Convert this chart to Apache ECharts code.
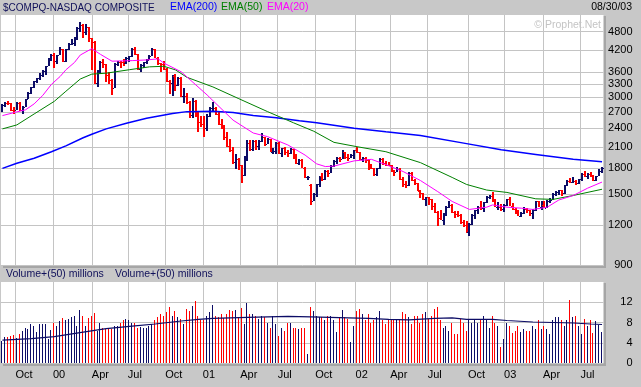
<!DOCTYPE html>
<html><head><meta charset="utf-8">
<script src="https://cdn.jsdelivr.net/npm/echarts@6/dist/echarts.min.js"></script>
<style>html,body{margin:0;padding:0;background:#c8c8c8;overflow:hidden}#c{width:641px;height:387px}</style>
</head><body><div id="c"></div>
<script>
// Weekly bars, index 0 = week ending 1999-09-03, last (208) = week ending 2003-08-29
const gridWeeks = [4.5, 17.5, 31, 43.5, 56.5, 69.5, 82.5, 95.5, 108.5, 122.5, 134.5, 147.5, 161.5, 174, 187.5, 200.5];
const gridLabels = ['Oct','00','Apr','Jul','Oct','01','Apr','Jul','Oct','02','Apr','Jul','Oct','03','Apr','Jul'];
const priceTicks = [900,1200,1500,1800,2100,2400,2700,3000,3300,3600,4200,4800];
const volTicks = [0,4,8,12];

const opens = [2758,2843,2887,2869,2740,2736,2887,2731,2801,2967,
3102,3221,3369,3448,3520,3620,3753,3969,4069,3882,
4064,4235,3887,4245,4395,4411,4590,4914,5048,4798,
4963,4573,4446,3321,3643,3860,3817,3529,3390,3205,
3813,3874,3860,3845,3966,4024,4246,4095,3663,3787,
3849,3930,4042,4234,3986,3835,3803,3673,3361,3316,
3483,3278,3451,3028,3028,2904,2645,2917,2653,2517,
2470,2407,2626,2770,2781,2660,2470,2425,2262,2117,
2052,1890,1928,1840,1720,1961,2163,2075,2192,2107,
2193,2251,2149,2215,2028,2034,2160,2004,2084,2029,
2015,2066,1956,1867,1916,1805,1687,1600,1423,1499,
1605,1703,1671,1768,1746,1828,1898,1941,1930,2021,
1953,1945,1987,2059,2022,1930,1937,1911,1818,1805,
1724,1802,1930,1868,1851,1845,1770,1756,1796,1663,
1613,1600,1741,1661,1616,1535,1504,1441,1463,1448,
1373,1319,1262,1247,1306,1361,1380,1315,1295,1291,
1221,1199,1139,1210,1288,1331,1360,1359,1411,1468,
1479,1422,1362,1363,1348,1387,1447,1376,1343,1320,
1282,1310,1349,1337,1305,1340,1421,1369,1383,1358,
1425,1434,1502,1520,1538,1510,1596,1646,1627,1645,
1625,1663,1734,1708,1731,1715,1652,1702,1765];
const highs = [2850,2890,2915,2880,2790,2890,2900,2820,2970,3110,
3230,3370,3450,3560,3650,3760,3970,4090,4131,4070,
4290,4250,4250,4440,4550,4620,4970,5132,5070,5080,
4970,4600,4480,3650,3900,3960,3820,3600,3420,3830,
3900,3900,3950,3990,4030,4260,4289,4100,3800,3870,
3940,4060,4260,4240,4000,3840,3900,3690,3400,3520,
3550,3480,3470,3200,3100,2920,2980,2930,2700,2620,
2620,2660,2800,2892,2800,2700,2560,2460,2340,2230,
2100,1990,1940,1850,1965,2200,2200,2200,2210,2200,
2320,2260,2240,2220,2090,2170,2170,2090,2100,2060,
2080,2070,1990,1930,1920,1820,1710,1610,1510,1610,
1710,1740,1780,1780,1840,1910,1950,1950,2060,2030,
1990,2000,2060,2098,2030,1960,1960,1920,1860,1810,
1810,1940,1940,1900,1880,1850,1780,1820,1800,1690,
1650,1750,1750,1670,1620,1540,1510,1470,1465,1450,
1400,1330,1340,1310,1370,1425,1390,1330,1330,1300,
1240,1230,1215,1300,1340,1370,1420,1415,1480,1490,
1521,1440,1410,1390,1390,1450,1467,1400,1350,1340,
1320,1360,1350,1340,1345,1425,1425,1420,1420,1430,
1460,1505,1530,1540,1540,1600,1660,1680,1690,1660,
1670,1740,1770,1740,1760,1720,1710,1790,1815];
const lows = [2700,2790,2840,2720,2650,2730,2720,2650,2790,2960,
3070,3200,3330,3390,3480,3530,3750,3900,3711,3800,
4050,3870,3850,4200,4350,4330,4530,4800,4580,4700,
4450,3650,3300,3227,3550,3700,3350,3300,3042,3200,
3750,3700,3750,3800,3870,4000,4060,3640,3590,3700,
3820,3920,4030,3970,3780,3600,3640,3340,3070,3030,
3130,3240,3000,2880,2850,2590,2580,2600,2330,2420,
2251,2360,2600,2720,2640,2460,2380,2200,2100,2030,
1860,1790,1780,1619,1700,1900,2040,2040,2060,2050,
2180,2110,2140,2020,2000,2000,2000,1960,1980,1950,
2000,1930,1860,1840,1800,1680,1660,1387,1420,1470,
1580,1640,1660,1690,1740,1820,1860,1880,1920,1920,
1900,1940,1930,2010,1910,1880,1870,1780,1790,1700,
1700,1790,1840,1830,1830,1760,1700,1750,1660,1580,
1560,1590,1650,1600,1530,1460,1430,1375,1380,1340,
1310,1192,1240,1200,1280,1350,1310,1260,1270,1210,
1180,1130,1108,1200,1250,1300,1340,1320,1400,1440,
1410,1360,1340,1330,1320,1370,1370,1340,1300,1280,
1270,1300,1310,1280,1253,1330,1360,1340,1350,1350,
1400,1430,1480,1490,1480,1500,1590,1620,1620,1600,
1610,1650,1690,1670,1690,1644,1640,1700,1740];
const closes = [2843,2887,2869,2740,2736,2887,2731,2801,2967,3102,
3221,3369,3448,3520,3620,3753,3969,4069,3882,4064,
4235,3887,4245,4395,4411,4590,4914,5048,4798,4963,
4573,4446,3321,3643,3860,3817,3529,3390,3205,3813,
3874,3860,3845,3966,4024,4246,4095,3663,3787,3849,
3930,4042,4234,3986,3835,3803,3673,3361,3316,3483,
3278,3451,3028,3028,2904,2645,2917,2653,2517,2470,
2407,2626,2770,2781,2660,2470,2425,2262,2117,2052,
1890,1928,1840,1720,1961,2163,2075,2192,2107,2193,
2251,2149,2215,2028,2034,2160,2004,2084,2029,2015,
2066,1956,1867,1916,1805,1687,1695,1423,1499,1605,
1703,1671,1768,1746,1828,1898,1941,1930,2021,1953,
1945,1987,2059,2022,1930,1937,1911,1818,1805,1724,
1802,1930,1868,1851,1845,1770,1756,1796,1663,1613,
1600,1741,1661,1616,1535,1504,1441,1463,1448,1373,
1319,1262,1247,1306,1361,1380,1315,1295,1291,1221,
1199,1139,1210,1288,1331,1360,1359,1411,1468,1479,
1422,1362,1363,1348,1387,1447,1376,1343,1320,1282,
1310,1349,1337,1305,1340,1421,1369,1383,1358,1425,
1434,1502,1520,1538,1510,1596,1646,1627,1645,1625,
1663,1734,1708,1731,1715,1652,1702,1765,1810];
const volumes = [4.4,5.1,5.2,5.3,5.5,4.9,5.7,6.4,7.0,6.7,
7.7,7.4,6.1,7.7,7.7,7.7,4.7,6.5,8.0,7.4,
8.2,8.9,8.4,8.7,9.1,9.3,7.4,10.5,9.3,7.4,
8.9,9.3,9.9,6.4,8.0,7.0,6.7,7.0,6.7,7.4,
7.4,8.0,8.4,8.7,8.4,8.0,8.0,7.0,7.2,7.0,
7.0,7.4,7.7,8.4,9.0,9.7,9.3,10.0,11.0,9.3,
10.3,9.0,8.7,7.7,10.7,10.3,11.3,12.3,9.3,8.4,
8.4,9.3,10.0,11.4,9.3,9.1,9.7,8.9,9.7,10.5,
10.3,10.5,9.0,10.8,7.7,11.8,9.7,9.7,9.3,8.7,
9.3,9.0,8.0,7.0,9.3,7.7,5.3,7.0,6.4,8.0,
8.0,7.0,7.0,6.7,7.0,7.0,1.8,11.0,10.3,9.3,
9.0,9.0,8.4,9.3,9.3,8.4,6.1,9.1,10.5,9.0,
8.7,4.1,7.4,10.3,10.7,9.7,8.4,9.7,8.0,8.4,
9.0,10.3,8.4,7.7,8.4,8.5,8.5,8.5,8.7,10.0,
9.7,9.0,7.7,9.3,9.3,8.0,9.7,10.0,8.7,9.3,
10.7,11.1,8.4,7.0,7.4,6.4,8.0,5.7,5.7,8.7,
8.0,6.4,8.4,8.0,8.4,8.0,8.4,9.3,8.7,7.0,
9.3,8.0,7.4,3.1,4.7,8.0,7.4,5.9,6.4,7.4,
6.2,6.7,6.4,6.4,7.4,6.7,8.4,6.7,7.4,6.7,
5.7,8.4,9.0,9.0,8.4,7.4,8.4,12.4,9.0,9.3,
7.4,5.7,8.7,7.4,8.4,6.0,8.3,7.6,6.2];

// Moving averages: [week index, value]
const ema200 = [[0,1800],[5,1868],[11,1937],[17,2029],[22,2115],[28,2242],[31,2300],[36,2390],[43,2487],[50,2578],[59,2668],[64,2705],[73,2711],[80,2686],[87,2633],[95,2587],[103,2532],[109,2496],[122,2402],[133,2340],[145,2280],[161,2150],[173,2057],[185,1990],[198,1921],[208,1889]];
const ema50 = [[0,2390],[5,2459],[11,2660],[18,2913],[22,3130],[27,3418],[31,3540],[36,3564],[44,3654],[51,3730],[56,3745],[60,3650],[64,3460],[73,3230],[82,2968],[92,2704],[101,2496],[108,2350],[115,2170],[123,2103],[133,2029],[145,1876],[156,1687],[161,1604],[168,1541],[175,1515],[185,1447],[191,1441],[198,1482],[208,1550]];
const ema20 = [[0,2629],[5,2700],[8,2740],[11,2860],[14,3040],[17,3290],[20,3480],[22,3650],[25,3850],[27,4060],[31,4250],[34,4080],[38,3885],[45,3900],[50,3920],[54,3950],[56,3832],[62,3600],[71,3048],[80,2545],[87,2320],[92,2260],[99,2130],[105,1980],[109,1860],[112,1824],[115,1830],[122,1900],[128,1921],[133,1850],[139,1760],[145,1650],[151,1524],[156,1420],[162,1341],[168,1363],[170,1385],[175,1363],[180,1353],[184,1341],[189,1363],[193,1435],[198,1482],[203,1562],[208,1632]];
const volEma50 = [[0,4.5],[10,4.8],[18,5.2],[28,6.1],[36,6.8],[45,7.3],[53,7.7],[62,8.3],[68,8.6],[73,8.8],[85,9.0],[99,9.2],[107,9.1],[120,8.9],[127,8.8],[134,8.6],[141,8.5],[150,8.8],[156,8.9],[161,8.6],[170,8.6],[175,8.4],[184,8.1],[191,8.0],[198,7.9],[204,7.7],[208,7.6]];

const NAVY = '#0c0c66', RED = '#ff0000', GRID = '#c4c4c4', FONT = 'Arial, "Liberation Sans", sans-serif';
const upFlag = closes.map((c, i) => (i === 0 || c >= closes[i - 1]) ? 1 : 0);
const ohlcData = closes.map((c, i) => [i, opens[i], highs[i], lows[i], c, upFlag[i]]);
const volData = volumes.map((v, i) => [i, v, upFlag[i]]);

function ohlcItem(params, api) {
  const i = api.value(0);
  const h = api.coord([i, api.value(2)]);
  const l = api.coord([i, api.value(3)]);
  const o = api.coord([i, api.value(1)]);
  const c = api.coord([i, api.value(4)]);
  const col = api.value(5) ? NAVY : RED;
  const x = Math.round(h[0]);
  const yh = Math.round(h[1]), yl = Math.round(l[1]);
  return { type: 'group', children: [
    { type: 'rect', shape: { x: x - 1, y: yh, width: 2, height: Math.max(1, yl - yh) }, style: { fill: col } },
    { type: 'rect', shape: { x: x - 2, y: Math.round(o[1]), width: 1, height: 1 }, style: { fill: col } },
    { type: 'rect', shape: { x: x + 1, y: Math.round(c[1]), width: 1, height: 1 }, style: { fill: col } }
  ]};
}
function volItem(params, api) {
  const i = api.value(0);
  const t = api.coord([i, api.value(1)]);
  const b = api.coord([i, 0]);
  const x = Math.round(t[0]);
  return { type: 'rect', shape: { x: x - 1, y: Math.round(t[1]), width: 1, height: Math.round(b[1]) - Math.round(t[1]) },
           style: { fill: api.value(2) ? NAVY : RED } };
}
function weekLabel(v) {
  let k = 0, d = 1e9;
  gridWeeks.forEach((w, j) => { if (Math.abs(w - v) < d) { d = Math.abs(w - v); k = j; } });
  return gridLabels[k];
}
const lbl = { fontSize: 11, color: '#000', fontFamily: FONT };
const SHADE = '#a6a6a6';

const chart = echarts.init(document.getElementById('c'), null, { renderer: 'canvas' });
chart.setOption({
  animation: false,
  backgroundColor: '#c8c8c8',
  grid: [
    { left: 1, right: 37.5, top: 15, height: 251, show: true, backgroundColor: '#ffffff', borderWidth: 0 },
    { left: 1, right: 37.5, top: 282, height: 81, show: true, backgroundColor: '#ffffff', borderWidth: 0 }
  ],
  xAxis: [
    { type: 'value', gridIndex: 0, min: -0.5, max: 208.5, axisLine: { show: false },
      axisTick: { show: false, customValues: gridWeeks }, axisLabel: { show: false, customValues: gridWeeks },
      splitLine: { show: true, lineStyle: { color: GRID, width: 1 } } },
    { type: 'value', gridIndex: 1, min: -0.5, max: 208.5, axisLine: { show: false },
      axisTick: { show: false, customValues: gridWeeks },
      axisLabel: Object.assign({ customValues: gridWeeks, formatter: weekLabel, align: 'left', margin: 6 }, lbl),
      splitLine: { show: true, lineStyle: { color: GRID, width: 1 } } }
  ],
  yAxis: [
    { type: 'log', logBase: 10, gridIndex: 0, position: 'right', min: 893.6, max: 5411,
      axisLine: { show: false }, axisTick: { show: false, customValues: priceTicks },
      axisLabel: Object.assign({ customValues: priceTicks, formatter: v => String(Math.round(v)), align: 'right', margin: 29 }, lbl),
      splitLine: { show: true, lineStyle: { color: GRID, width: 1 } } },
    { type: 'value', gridIndex: 1, position: 'right', min: 0, max: 16,
      axisLine: { show: false }, axisTick: { show: false, customValues: volTicks },
      axisLabel: Object.assign({ customValues: volTicks, formatter: v => String(Math.round(v)), align: 'right', margin: 29 }, lbl),
      splitLine: { show: true, lineStyle: { color: GRID, width: 1 } } }
  ],
  series: [
    { type: 'custom', name: '$COMPQ', xAxisIndex: 0, yAxisIndex: 0, renderItem: ohlcItem, data: ohlcData,
      encode: { x: 0, y: [1, 2, 3, 4] }, clip: true, z: 2 },
    { type: 'line', name: 'EMA(200)', xAxisIndex: 0, yAxisIndex: 0, data: ema200, symbol: 'none', smooth: false,
      lineStyle: { color: '#0000ff', width: 1.5 }, z: 3 },
    { type: 'line', name: 'EMA(50)', xAxisIndex: 0, yAxisIndex: 0, data: ema50, symbol: 'none', smooth: false,
      lineStyle: { color: '#008000', width: 1 }, z: 3 },
    { type: 'line', name: 'EMA(20)', xAxisIndex: 0, yAxisIndex: 0, data: ema20, symbol: 'none', smooth: false,
      lineStyle: { color: '#ff00ff', width: 1 }, z: 3 },
    { type: 'custom', name: 'Volume', xAxisIndex: 1, yAxisIndex: 1, renderItem: volItem, data: volData,
      encode: { x: 0, y: 1 }, clip: true, z: 2 },
    { type: 'line', name: 'Volume EMA(50)', xAxisIndex: 1, yAxisIndex: 1, data: volEma50, symbol: 'none', smooth: false,
      lineStyle: { color: '#0c0c66', width: 1.2 }, z: 3 }
  ],
  graphic: [
    { type: 'rect', left: 603, top: 16, z: -1, shape: { width: 3, height: 252 }, style: { fill: SHADE } },
    { type: 'rect', left: 3, top: 266, z: -1, shape: { width: 603, height: 2 }, style: { fill: SHADE } },
    { type: 'rect', left: 603, top: 283, z: -1, shape: { width: 3, height: 83 }, style: { fill: SHADE } },
    { type: 'rect', left: 3, top: 363, z: -1, shape: { width: 603, height: 3 }, style: { fill: SHADE } },
    { type: 'text', left: 3, top: 3, style: { text: '$COMPQ-NASDAQ COMPOSITE', fill: '#10105a', font: '10px ' + FONT } },
    { type: 'text', left: 170, top: 2, style: { text: 'EMA(200)', fill: '#0000ff', font: '10.5px ' + FONT } },
    { type: 'text', left: 221, top: 2, style: { text: 'EMA(50)', fill: '#008000', font: '10.5px ' + FONT } },
    { type: 'text', left: 267, top: 2, style: { text: 'EMA(20)', fill: '#ff00ff', font: '10.5px ' + FONT } },
    { type: 'text', right: 9, top: 2, style: { text: '08/30/03', fill: '#000', font: '10.5px ' + FONT } },
    { type: 'text', right: 40, top: 20, z: 10, style: { text: '\u00a9 Prophet.Net', fill: '#c4c4c4', font: '10.5px ' + FONT } },
    { type: 'text', left: 6, top: 269, style: { text: 'Volume+(50) millions', fill: '#10105a', font: '10.5px ' + FONT } },
    { type: 'text', left: 115, top: 269, style: { text: 'Volume+(50) millions', fill: '#10105a', font: '10.5px ' + FONT } }
  ]
});
</script></body></html>
